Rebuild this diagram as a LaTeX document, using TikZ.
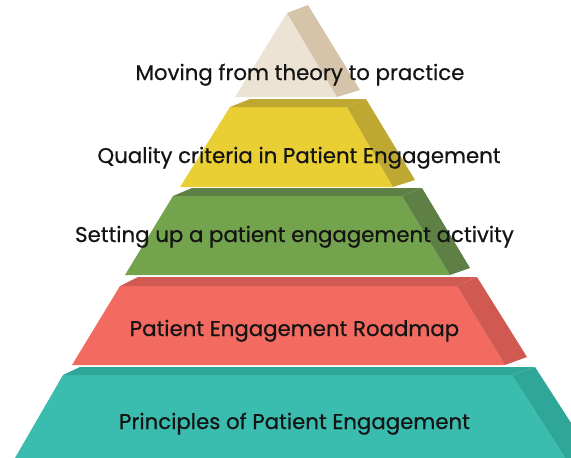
\documentclass[tikz,border=0pt]{standalone}
\usepackage{fontspec}
\setmainfont{Poppins}[FakeBold=0.6]
\definecolor{beigeF}{HTML}{EDE3D5}
\definecolor{beigeS}{HTML}{D5C4A9}
\definecolor{yelF}{HTML}{E9CE34}
\definecolor{yelS}{HTML}{BFA832}
\definecolor{grnF}{HTML}{74A34E}
\definecolor{grnS}{HTML}{5F8045}
\definecolor{redF}{HTML}{F26A60}
\definecolor{redS}{HTML}{D05A52}
\definecolor{tealF}{HTML}{3ABCAE}
\definecolor{tealS}{HTML}{2EA698}
\tikzset{
  lbl/.style={font=\fontsize{21.3}{23}\selectfont, text=black!92, inner sep=0pt, anchor=base},
}
\begin{document}
\begin{tikzpicture}[x=1pt,y=-1pt]
\useasboundingbox (0,0) rectangle (571,458);
\clip (0,0) rectangle (571,458);
% beige top
\fill[beigeF] (287,13) -- (337,97) -- (235,97) -- cycle;
\fill[beigeS] (287,13) -- (308,5) -- (360,90) -- (337,97) -- cycle;
% yellow
\fill[yelF] (230,107) -- (347,107) -- (393,187) -- (180,187) -- cycle;
\fill[yelS] (230,107) -- (250,99) -- (366,99) -- (347,107) -- cycle;
\fill[yelS] (347,107) -- (366,99) -- (415,180) -- (393,187) -- cycle;
% green
\fill[grnF] (173,196) -- (402,196) -- (450,275) -- (125,275) -- cycle;
\fill[grnS] (173,196) -- (192,188) -- (422,188) -- (402,196) -- cycle;
\fill[grnS] (402,196) -- (422,188) -- (470,268) -- (450,275) -- cycle;
% red
\fill[redF] (120,286) -- (457,286) -- (505,365) -- (72,365) -- cycle;
\fill[redS] (120,286) -- (138,277) -- (477,277) -- (457,286) -- cycle;
\fill[redS] (457,286) -- (477,277) -- (527,357) -- (505,365) -- cycle;
% teal
\fill[tealF] (63,375) -- (512,375) -- (573,470) -- (8,470) -- cycle;
\fill[tealS] (63,375) -- (80,367) -- (535,367) -- (512,375) -- cycle;
\fill[tealS] (512,375) -- (535,367) -- (595,460) -- (573,470) -- cycle;
% labels
\node[lbl] (t1) at (300,80) {Moving from theory to practice};
\node[lbl] (t2) at (299,163) {Quality criteria in Patient Engagement};
\node[lbl] (t3) at (294.5,242) {Setting up a patient engagement activity};
\node[lbl] (t4) at (294.5,336) {Patient Engagement Roadmap};
\node[lbl] (t5) at (294.5,429) {Principles of Patient Engagement};
\end{tikzpicture}
\end{document}
